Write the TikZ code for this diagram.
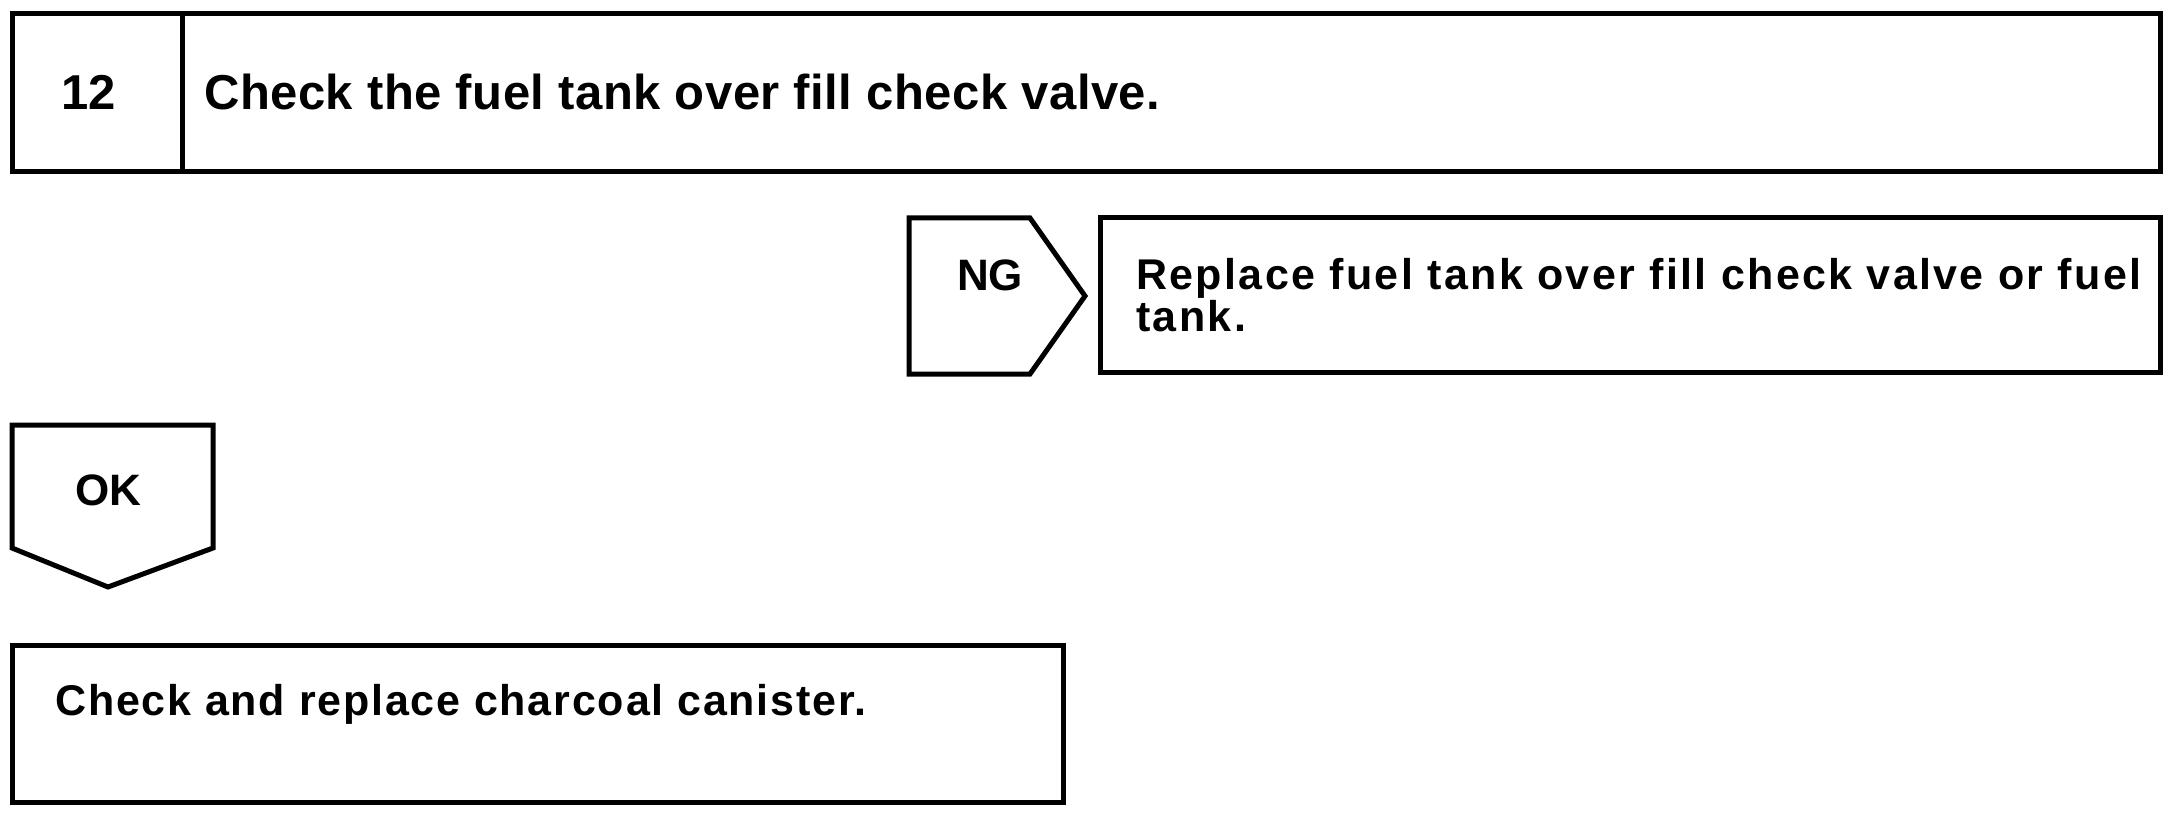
\documentclass[tikz,border=0pt]{standalone}
\usepackage{fontspec}
\setmainfont{Liberation Sans}
\begin{document}
\begin{tikzpicture}[x=1pt,y=-1pt,
  box/.style={draw=black, line width=5pt, line join=miter},
  big/.style={font=\bfseries\fontsize{49}{52}\selectfont, inner sep=0pt},
  mid/.style={font=\bfseries\fontsize{44}{46}\selectfont, inner sep=0pt},
  txt/.style={font=\bfseries\fontsize{43}{42}\selectfont, inner sep=0pt, align=left}]
\useasboundingbox (0,0) rectangle (2176,813);
% header box
\draw[box] (12,14) rectangle (2160,172);
\draw[box] (182,14) -- (182,172);
\node[big, anchor=base] (num) at (89,110) {12};
\node[big, anchor=base west] (title) at (204,110) {\addfontfeature{LetterSpace=1.0}Check the fuel tank over fill check valve.};
% NG pentagon
\draw[box] (909,218) -- (1030,218) -- (1085,296) -- (1030,374) -- (909,374) -- cycle;
\node[mid, anchor=base] (ng) at (990,290) {NG};
% replace box
\draw[box] (1100,218) rectangle (2160,372);
\node[txt, anchor=north west] (repl) at (1136,258) {\addfontfeature{LetterSpace=5.5}Replace fuel tank over fill check valve or fuel\\\addfontfeature{LetterSpace=5.5}tank.};
% OK pentagon
\draw[box] (12,425) -- (213,425) -- (213,548) -- (108,587) -- (12,548) -- cycle;
\node[mid, anchor=base] (ok) at (108,505) {OK};
% bottom box
\draw[box] (12,645) rectangle (1063,802);
\node[txt, anchor=base west] (canister) at (55,715) {\addfontfeature{LetterSpace=4.2}Check and replace charcoal canister.};
\end{tikzpicture}
\end{document}
